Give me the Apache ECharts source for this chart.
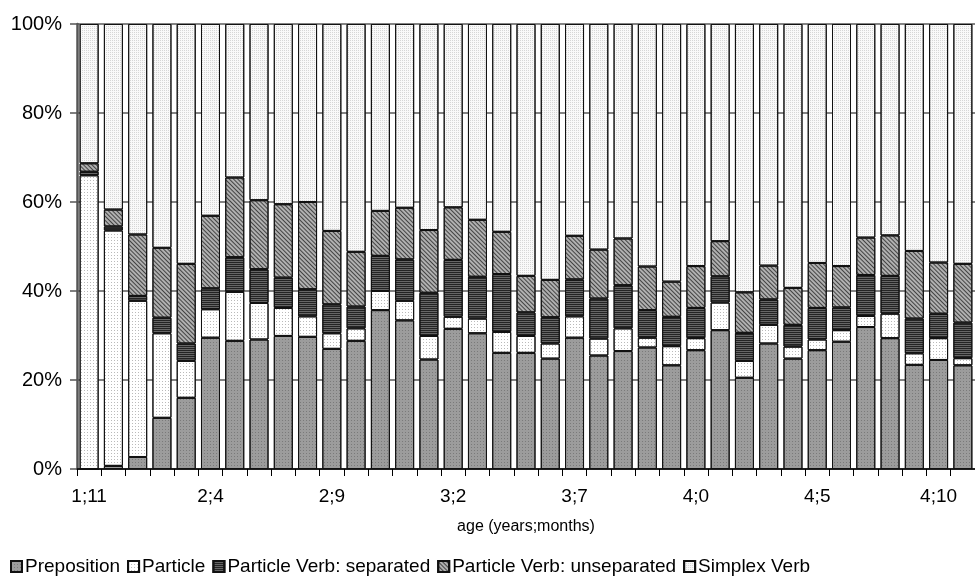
<!DOCTYPE html>
<html>
<head>
<meta charset="utf-8">
<script src="https://cdn.jsdelivr.net/npm/echarts@6/dist/echarts.min.js"></script>
<style>html,body{margin:0;padding:0;background:#fff;}#chart{width:975px;height:586px;}</style>
</head>
<body>
<div id="chart"></div>
<script>
const categories = ["1;11","2;0","2;1","2;2","2;3","2;4","2;5","2;6","2;7","2;8","2;9","2;10","2;11",
  "3;0","3;1","3;2","3;3","3;4","3;5","3;6","3;7","3;8","3;9","3;10","3;11",
  "4;0","4;1","4;2","4;3","4;4","4;5","4;6","4;7","4;8","4;9","4;10","4;11"];
const preposition = [0,0.7,2.7,11.5,16.0,29.5,28.8,29.1,29.9,29.7,27.0,28.8,35.7,33.4,24.6,31.5,30.5,26.1,26.1,24.8,29.5,25.5,26.5,27.3,23.3,26.7,31.2,20.5,28.2,24.8,26.7,28.6,31.9,29.4,23.4,24.5,23.3];
const particle = [66.0,52.9,35.1,19.0,8.3,6.4,11.0,8.2,6.3,4.6,3.5,2.8,4.3,4.4,5.3,2.7,3.3,4.7,3.8,3.4,4.8,3.8,5.1,2.2,4.3,2.7,6.2,3.8,4.2,2.7,2.4,2.6,2.5,5.5,2.6,4.9,1.6];
const pvSeparated = [0.8,0.9,1.1,3.5,3.9,4.7,7.8,7.6,6.8,6.1,6.5,4.9,7.9,9.3,9.7,12.8,9.4,13.0,5.3,5.9,8.3,9.0,9.7,6.2,6.6,6.8,5.9,6.3,5.7,4.9,7.1,5.1,9.2,8.5,7.8,5.5,8.0];
const pvUnseparated = [1.9,3.8,13.8,15.7,17.9,16.3,17.9,15.5,16.5,19.6,16.5,12.3,10.1,11.6,14.1,11.8,12.8,9.5,8.2,8.4,9.8,11.0,10.5,9.8,7.9,9.4,7.9,9.1,7.6,8.3,10.1,9.3,8.4,9.1,15.2,11.5,13.2];
const simplexVerb = [31.3,41.7,47.3,50.3,53.9,43.1,34.5,39.6,40.5,40.0,46.5,51.2,42.0,41.3,46.3,41.2,44.0,46.7,56.6,57.5,47.6,50.7,48.2,54.5,57.9,54.4,48.8,60.3,54.3,59.3,53.7,54.4,48.0,47.5,51.0,53.6,53.9];
const yTicks = [0,20,40,60,80,100];
const seriesNames = ["Preposition","Particle","Particle Verb: separated","Particle Verb: unseparated","Simplex Verb"];

const FONT = '"Liberation Sans", Arial, sans-serif';
const styles = [
  {color:'#9c9c9c', decal:{symbol:'rect', symbolSize:1, color:'rgba(60,60,60,0.35)', dashArrayX:[1,2], dashArrayY:[1,2]}},
  {color:'#ffffff', decal:{symbol:'rect', symbolSize:1, color:'rgba(130,130,130,0.55)', dashArrayX:[1,2], dashArrayY:[1,2]}},
  {color:'#666666', decal:{symbol:'rect', symbolSize:1, color:'rgba(20,20,20,0.8)', dashArrayX:[1,0], dashArrayY:[1,1]}},
  {color:'#b0b0b0', decal:{symbol:'rect', symbolSize:1, color:'rgba(40,40,40,0.8)', dashArrayX:[1,0], dashArrayY:[1,1.2], rotation:Math.PI/4}},
  {color:'#f9f9f9', decal:{symbol:'rect', symbolSize:1, color:'rgba(170,170,170,0.45)', dashArrayX:[1,1], dashArrayY:[1,1]}}
];
const values = [preposition, particle, pvSeparated, pvUnseparated, simplexVerb];

const chart = echarts.init(document.getElementById('chart'), null, {renderer:'canvas'});
chart.setOption({
  animation:false,
  backgroundColor:'#ffffff',
  grid:{left:77, top:24, width:908, height:445, containLabel:false},
  legend:{
    data:seriesNames, left:5, top:552, itemWidth:11, itemHeight:11, itemGap:7, icon:'rect',
    textStyle:{fontFamily:FONT, fontSize:19, color:'#000', padding:[0,0,0,-2]}
  },
  xAxis:{
    type:'category', data:categories,
    name:'age (years;months)', nameLocation:'middle', nameGap:50,
    nameTextStyle:{fontFamily:FONT, fontSize:16, color:'#000'},
    axisLine:{lineStyle:{color:'#000', width:1.5}},
    axisTick:{show:true, interval:0, length:7, lineStyle:{color:'#000', width:1}},
    axisLabel:{interval:4, margin:18, fontFamily:FONT, fontSize:19, color:'#000'}
  },
  yAxis:{
    type:'value', min:0, max:100, interval:20,
    axisLine:{show:true, lineStyle:{color:'#555', width:2.5}},
    axisTick:{show:true, length:7, lineStyle:{color:'#555', width:1.5}},
    axisLabel:{margin:15, fontFamily:FONT, fontSize:20, color:'#000', formatter:function(v){return yTicks.indexOf(v)>=0 ? v+'%' : '';}},
    splitLine:{show:true, lineStyle:{color:'#5a5a5a', width:1.5}}
  },
  series: seriesNames.map(function(n,i){
    return {
      name:n, type:'bar', stack:'total', data:values[i], barWidth:19,
      itemStyle:{color:styles[i].color, decal:styles[i].decal, borderColor:'#111', borderWidth:1}
    };
  })
});
</script>
</body>
</html>
